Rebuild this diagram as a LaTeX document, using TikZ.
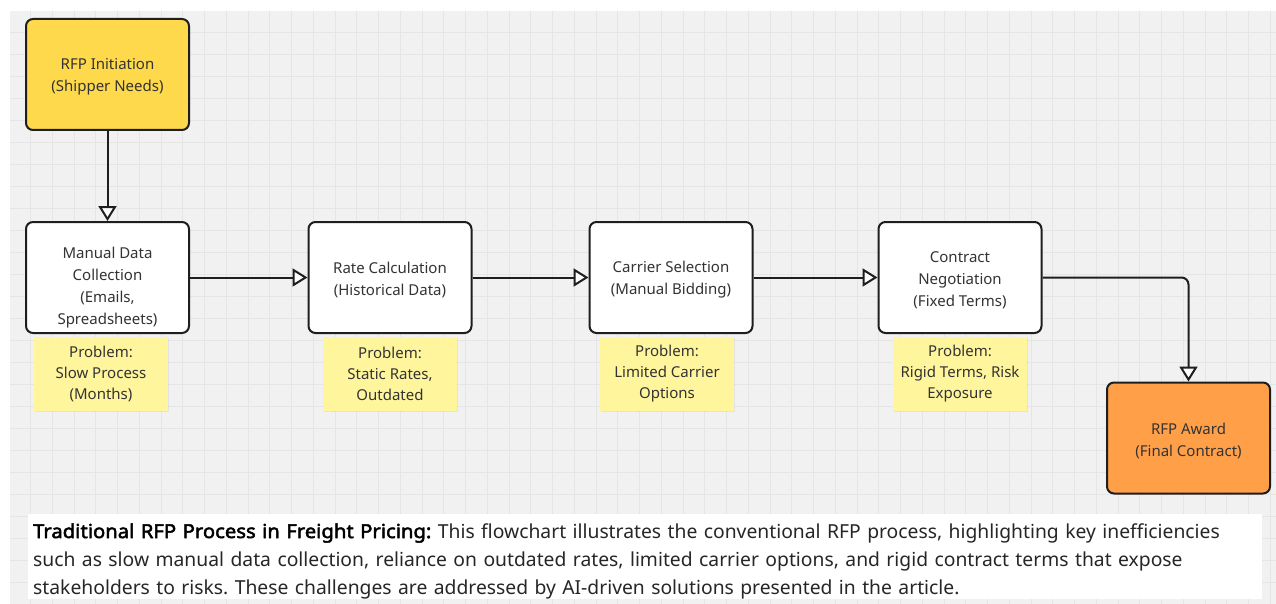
\documentclass[tikz,border=0pt]{standalone}
\usepackage{fontspec}
\setmainfont{Noto Sans}[AutoFakeBold=2.2]
\newfontfamily\captionbold{Noto Sans}[FakeBold=2.4, FakeStretch=1.05]
\usetikzlibrary{arrows.meta,shadows}

\definecolor{canvasbg}{HTML}{F1F1F1}
\definecolor{gridline}{HTML}{E5E5E5}
\definecolor{initfill}{HTML}{FDD94B}
\definecolor{awardfill}{HTML}{FF9F48}
\definecolor{notefill}{HTML}{FFF59D}
\definecolor{inkgray}{HTML}{333333}
\definecolor{edgeink}{HTML}{1E1E1E}

\tikzset{
  stepbox/.style={draw=edgeink, line width=2pt, rounded corners=7pt, fill=white,
    minimum width=163pt, minimum height=111pt, inner sep=0pt},
  boxtext/.style={align=center, inner sep=0pt, text=inkgray, yshift=-2.5pt,
    font=\fontsize{15}{22}\selectfont},
  notebox/.style={fill=notefill, minimum width=134pt, minimum height=74pt,
    inner sep=0pt, align=center, text=inkgray, font=\fontsize{15}{21}\selectfont,
    drop shadow={shadow xshift=0.8pt, shadow yshift=-1.2pt, opacity=0.12}},
  flow/.style={draw=edgeink, line width=2pt, rounded corners=7pt,
    -{Triangle[fill=white, length=15pt, width=18pt, line width=2pt]}},
}

\begin{document}
\frenchspacing
\begin{tikzpicture}[x=1pt, y=-1pt, line join=round]

  %% ════ 画布：白边 + 灰色网格 ════
  \fill[white] (0,0) rectangle (1276,604);
  \fill[canvasbg] (10,11) rectangle (1276,604);
  \foreach \k in {1,...,58}
    \draw[gridline, line width=0.7pt] ({8.75+21.75*\k},11) -- ({8.75+21.75*\k},604);
  \foreach \k in {1,...,26}
    \draw[gridline, line width=0.7pt] (10,{10+22*\k}) -- (1276,{10+22*\k});

  %% ════ 流程节点 ════
  \node[stepbox, fill=initfill, label={[boxtext]center:RFP Initiation\\(Shipper Needs)}] (init) at (107.5,74.5) {};
  \node[stepbox, label={[boxtext, yshift=-7.5pt]center:Manual Data\\Collection\\(Emails,\\Spreadsheets)}] (manual) at (107.5,277.5) {};
  \node[stepbox, label={[boxtext]center:Rate Calculation\\(Historical Data)}] (rate) at (390,277.5) {};
  \node[stepbox, label={[boxtext]center:Carrier Selection\\(Manual Bidding)}] (carrier) at (671,277.5) {};
  \node[stepbox, label={[boxtext]center:Contract\\Negotiation\\(Fixed Terms)}] (contract) at (960,277.5) {};
  \node[stepbox, fill=awardfill, label={[boxtext]center:RFP Award\\(Final Contract)}] (award) at (1188.5,438) {};

  %% ════ 便签（问题）════
  \node[notebox] (probslow) at (101,374) {Problem:\\Slow Process\\(Months)};
  \node[notebox] (probrates) at (390,374) {Problem:\\Static Rates,\\Outdated};
  \node[notebox] (probcarrier) at (667,374) {Problem:\\Limited Carrier\\Options};
  \node[notebox] (probterms) at (960,374) {Problem:\\Rigid Terms, Risk\\Exposure};

  %% ════ 连线 ════
  \draw[flow] (init) -- (manual);
  \draw[flow] (manual) -- (rate);
  \draw[flow] (rate) -- (carrier);
  \draw[flow] (carrier) -- (contract);
  \draw[flow] (contract.east) -| (award.north);

  %% ════ 说明文字 ════
  \fill[white] (28,514) rectangle (1262,599);
  \node[anchor=west, inner sep=0pt, text width=1226pt, align=left, text=black!85,
        font=\fontsize{19.3}{28}\selectfont]
    (caption) at (33,561)
    {{\captionbold\color{black}Traditional RFP Process in Freight Pricing:} This flowchart illustrates the conventional RFP process, highlighting key inefficiencies\\
     such as slow manual data collection, reliance on outdated rates, limited carrier options, and rigid contract terms that expose\\
     stakeholders to risks. These challenges are addressed by AI-driven solutions presented in the article.};

  \pgfresetboundingbox
  \path[use as bounding box] (0,0) rectangle (1276,604);
\end{tikzpicture}
\end{document}
